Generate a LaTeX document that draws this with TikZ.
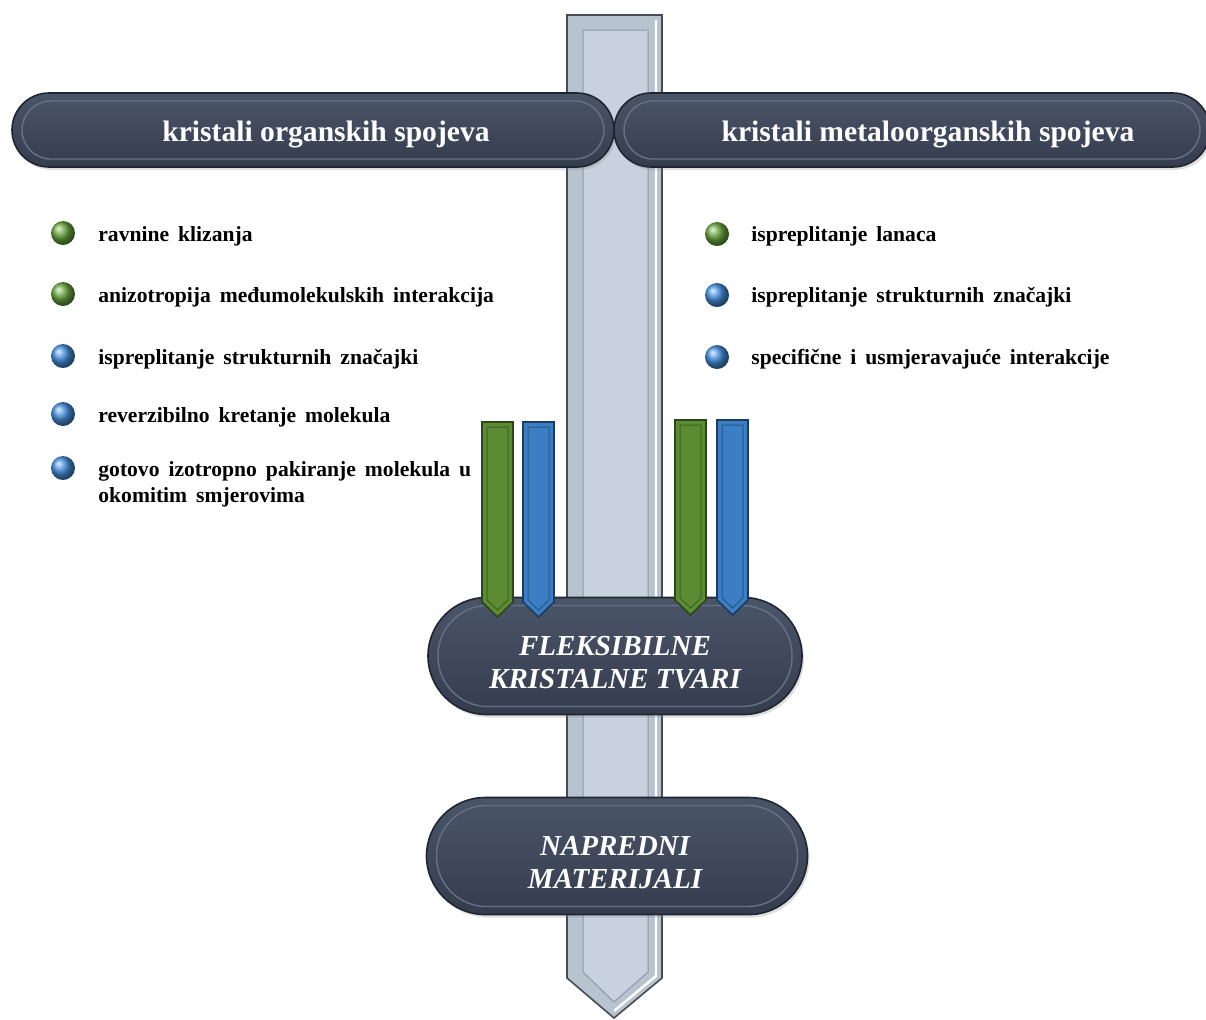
\documentclass[tikz,border=0pt]{standalone}
\usepackage{fontspec}
\setmainfont{Liberation Serif}
\usetikzlibrary{shapes.misc,calc,positioning,shadows}
\definecolor{pilltop}{HTML}{4B5568}
\definecolor{pillbot}{HTML}{343D4E}
\definecolor{pillrim}{HTML}{1F2631}
\definecolor{pillhi}{HTML}{66708A}
\definecolor{barfill}{HTML}{C8D2DE}
\definecolor{barband}{HTML}{B8C3D0}
\definecolor{barrim}{HTML}{474C54}
\definecolor{barline}{HTML}{8E99A8}
\definecolor{arrgreen}{HTML}{5B8C34}
\definecolor{arrgreenrim}{HTML}{2C4519}
\definecolor{arrblue}{HTML}{3B7EC4}
\definecolor{arrbluerim}{HTML}{1D3B60}
\definecolor{ballgreen}{HTML}{6AA840}
\definecolor{ballblue}{HTML}{4590E0}
\newcommand\itemfont{\fontsize{10.8}{13}\selectfont\bfseries\spaceskip=4.5pt plus 1pt\relax}

\begin{document}
\begin{tikzpicture}[x=0.5pt, y=-0.5pt,
    pill/.style={rounded rectangle, draw=pillrim, line width=0.8pt,
      top color=pilltop, bottom color=pillbot, inner sep=0pt,
      drop shadow={opacity=0.25, shadow xshift=1pt, shadow yshift=-1.5pt}},
    pillline/.style={path picture={\draw[pillhi, line width=0.7pt, rounded corners=#1]
      ($(path picture bounding box.north west)+(5pt,-4pt)$) rectangle
      ($(path picture bounding box.south east)+(-5pt,4pt)$);}},
    head/.style={text=white, inner sep=0pt, font=\fontsize{14.8}{17}\selectfont\bfseries},
    goal/.style={text=white, align=center, font=\fontsize{14.5}{16.5}\selectfont\bfseries\itshape},
    dot/.style={circle, minimum size=12pt, inner sep=0pt, shading=ball, ball color=#1},
    item/.style={inner sep=0pt, align=left, font=\itemfont}]
  \useasboundingbox (0,0) rectangle (1206,1019);

  % main shaft
  \draw[barrim, line width=0.8pt, fill=barband]
    (567,15) -- (662,15) -- (662,978) -- (614,1018) -- (567,978) -- cycle;
  \draw[barline, line width=0.5pt, fill=barfill]
    (583,30) -- (648,30) -- (648,972) -- (614,1002) -- (583,972) -- cycle;
  \draw[white, line width=1.2pt] (656,20) -- (656,976) -- (614,1011);

  % headers
  \node[pill, pillline=14.5pt, minimum width=301pt, minimum height=37pt] (org) at (313,130) {};
  \node[pill, pillline=14.5pt, minimum width=298pt, minimum height=37pt] (mof) at (912,130) {};
  \node[head, anchor=base] (orgtxt) at (326,141) {kristali organskih spojeva};
  \node[head, anchor=base] (moftxt) at (928,141) {kristali metaloorganskih spojeva};

  % goals
  \node[pill, pillline=25pt, minimum width=187pt, minimum height=58.5pt] (flex) at (615,656) {};
  \node[pill, pillline=25pt, minimum width=190.5pt, minimum height=58.5pt] (adv) at (617,856) {};
  \node[goal] (flextxt) at ($(flex)+(0,7)$) {FLEKSIBILNE\\KRISTALNE TVARI};
  \node[goal] (advtxt) at ($(adv)+(-2,7)$) {NAPREDNI\\MATERIJALI};

  \foreach \xa/\yt/\col in {482/422/arrgreen, 523/422/arrblue, 675/420/arrgreen, 717/420/arrblue} {
    \draw[\col rim, line width=0.8pt, fill=\col]
      (\xa,\yt) -- ++(31,0) -- ++(0,180) -- ++(-15.5,15) -- ++(-15.5,-15) -- cycle;
    \draw[\col rim!60!\col, line width=0.5pt]
      (\xa+5,\yt+5) -- ++(21,0) -- ++(0,173) -- ++(-10.5,10) -- ++(-10.5,-10) -- cycle;
  }

  % organic crystals
  \node[dot=ballgreen] (l1) at (63,233) {};
  \node[dot=ballgreen] (l2) at (63,294) {};
  \node[dot=ballblue] (l3) at (63,356) {};
  \node[dot=ballblue] (l4) at (63,414) {};
  \node[dot=ballblue] (l5) at (63,468) {};
  \node[item, anchor=base west] (l1txt) at ($(l1)+(35,8)$) {ravnine klizanja};
  \node[item, anchor=base west] (l2txt) at ($(l2)+(35,8)$) {anizotropija međumolekulskih interakcija};
  \node[item, anchor=base west] (l3txt) at ($(l3)+(35,8)$) {ispreplitanje strukturnih značajki};
  \node[item, anchor=base west] (l4txt) at ($(l4)+(35,8)$) {reverzibilno kretanje molekula};
  \node[item, anchor=north west] (l5txt) at ($(l5)+(35,-7)$) {gotovo izotropno pakiranje molekula u\\okomitim smjerovima};

  % metal-organic crystals
  \node[dot=ballgreen] (r1) at (717,234) {};
  \node[dot=ballblue] (r2) at (717,295) {};
  \node[dot=ballblue] (r3) at (717,357) {};
  \node[item, anchor=base west] (r1txt) at ($(r1)+(34,7)$) {ispreplitanje lanaca};
  \node[item, anchor=base west] (r2txt) at ($(r2)+(34,7)$) {ispreplitanje strukturnih značajki};
  \node[item, anchor=base west] (r3txt) at ($(r3)+(34,7)$) {specifične i usmjeravajuće interakcije};
\end{tikzpicture}
\end{document}
